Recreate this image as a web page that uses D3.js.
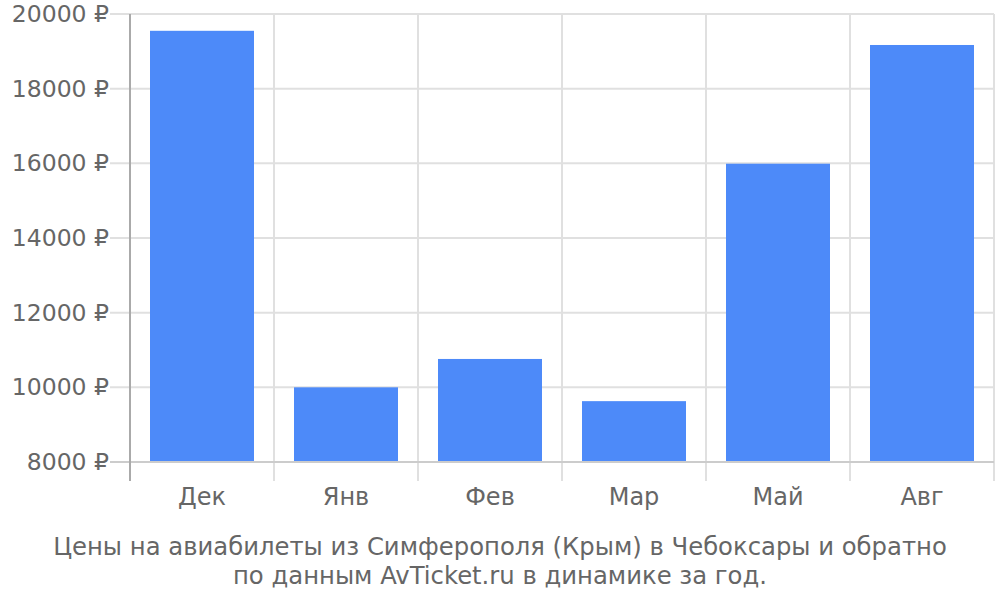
<!DOCTYPE html>
<html><head><meta charset="utf-8">
<script src="https://cdn.jsdelivr.net/npm/d3@7"></script>
<style>body{margin:0;background:#fff}svg{display:block}</style>
</head><body>
<svg id="c" width="1000" height="600"></svg>
<script>
const categories = ["Дек","Янв","Фев","Мар","Май","Авг"];
const prices = [19550, 10000, 10760, 9630, 15990, 19170];
const yTicks = [8000, 10000, 12000, 14000, 16000, 18000, 20000];
const captionLines = ["Цены на авиабилеты из Симферополя (Крым) в Чебоксары и обратно","по данным AvTicket.ru в динамике за год."];

const svg = d3.select("#c");
const L = 130, R = 994, T = 14, B = 462;
const font = "DejaVu Sans, sans-serif";
const x = d3.scaleBand().domain(categories).range([L, R]).paddingInner(0).paddingOuter(0);
const y = d3.scaleLinear().domain([8000, 20000]).range([B, T]);

svg.append("g").selectAll("line").data(yTicks).join("line")
  .attr("x1", 110).attr("x2", R).attr("y1", d => y(d)).attr("y2", d => y(d))
  .attr("stroke", d => d === 8000 ? "#cccccc" : "#e0e0e0").attr("stroke-width", 2);

const vx = categories.map(c => x(c)).slice(1).concat([R]);
svg.append("g").selectAll("line").data(vx).join("line")
  .attr("x1", d => d).attr("x2", d => d).attr("y1", T).attr("y2", 481)
  .attr("stroke", "#e0e0e0").attr("stroke-width", 2);

const pad = 20;
svg.append("g").selectAll("rect").data(categories).join("rect")
  .attr("x", c => x(c) + pad).attr("width", x.bandwidth() - 2 * pad)
  .attr("y", (c, i) => y(prices[i])).attr("height", (c, i) => B - y(prices[i]))
  .attr("fill", "#4d8af9");

svg.append("line").attr("x1", 110).attr("x2", R).attr("y1", B).attr("y2", B)
  .attr("stroke", "#cccccc").attr("stroke-width", 2);
svg.append("line").attr("x1", L).attr("x2", L).attr("y1", T).attr("y2", 481)
  .attr("stroke", "#aaaaaa").attr("stroke-width", 2);

svg.append("g").selectAll("text").data(yTicks).join("text")
  .attr("x", 109).attr("y", d => y(d) + 8).attr("text-anchor", "end")
  .attr("font-family", font).attr("font-size", 23.5).attr("fill", "#666")
  .text(d => d + " ₽");

svg.append("g").selectAll("text").data(categories).join("text")
  .attr("x", c => x(c) + x.bandwidth() / 2).attr("y", 505).attr("text-anchor", "middle")
  .attr("font-family", font).attr("font-size", 24).attr("fill", "#666")
  .text(c => c);

svg.append("g").selectAll("text").data(captionLines).join("text")
  .attr("x", 500).attr("y", (d, i) => 555 + i * 29).attr("text-anchor", "middle")
  .attr("font-family", font).attr("font-size", 24.3).attr("fill", "#666")
  .text(d => d);
</script>
</body></html>
